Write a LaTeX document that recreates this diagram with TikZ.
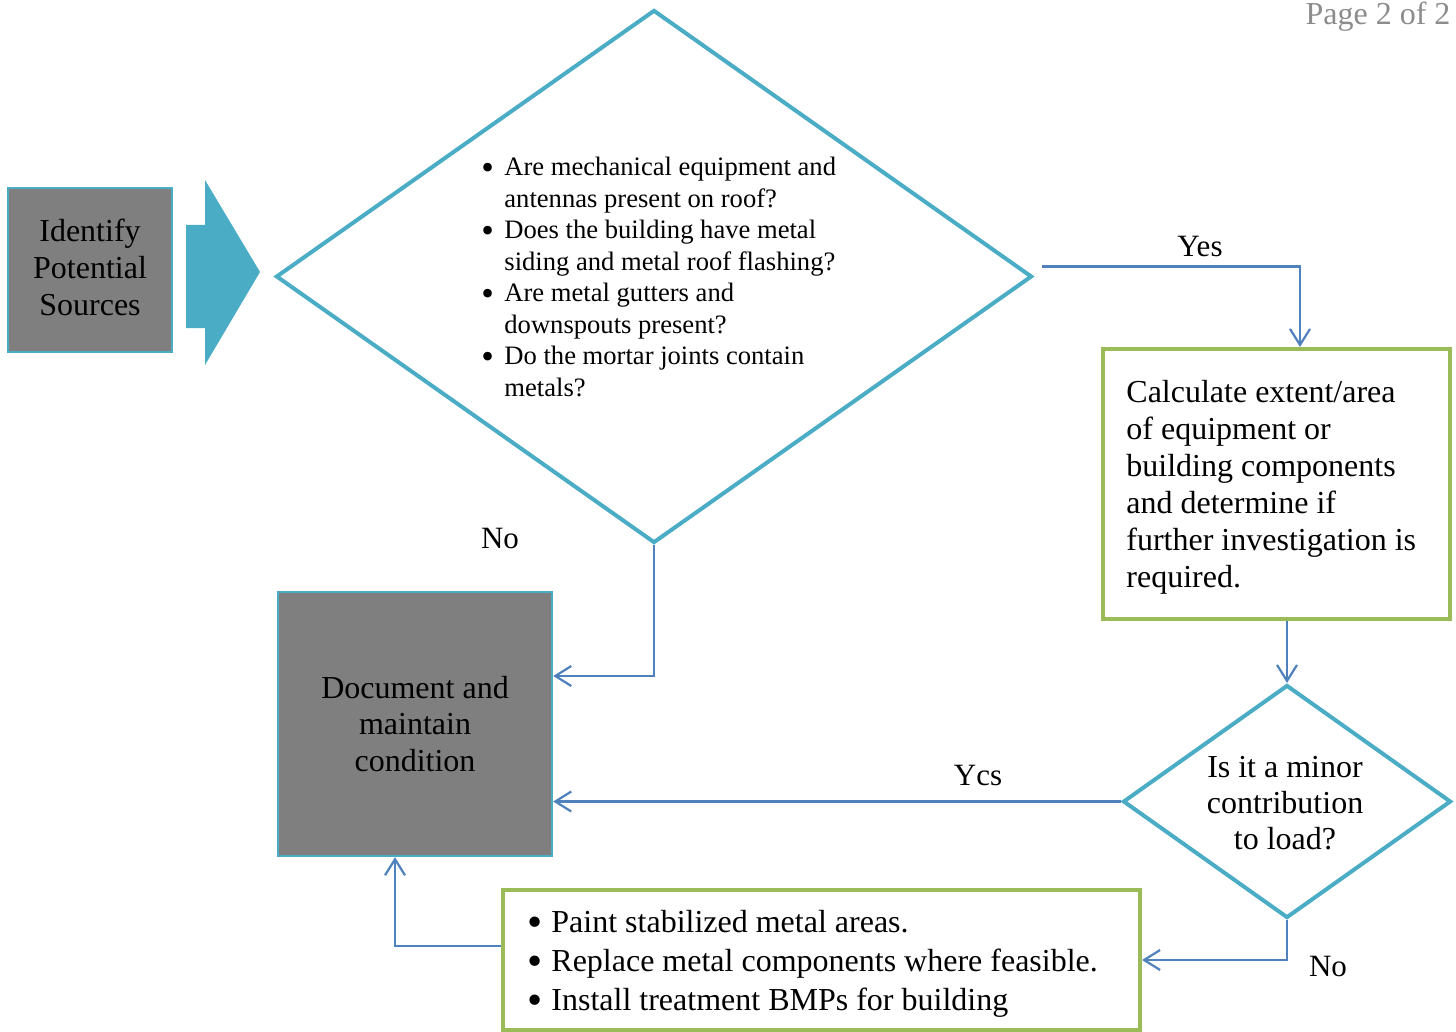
\documentclass[tikz,border=0pt]{standalone}
\usepackage{fontspec}
\setmainfont{Liberation Serif}
\usetikzlibrary{shapes.geometric,arrows.meta}

\definecolor{aqua}{HTML}{4BACC6}
\definecolor{leaf}{HTML}{9BBB59}
\definecolor{wire}{HTML}{4F81BD}
\definecolor{slab}{HTML}{7F7F7F}
\definecolor{pagegray}{HTML}{8C8C8C}

% a bullet a little heavier than the text font's own, kept at x-height
\newcommand{\dotmark}[1]{\makebox[#1][l]{\raisebox{-0.14em}{\scalebox{1.35}{\textbullet}}}}

\tikzset{
  srcbox/.style={draw=aqua, line width=1.2pt, fill=slab, inner sep=0pt, align=center},
  greenbox/.style={draw=leaf, line width=2pt, fill=white, inner sep=0pt},
  decision/.style={draw=aqua, line width=2pt, shape=diamond, inner sep=0pt},
  flow/.style={draw=wire, line width=1.1pt, -{Straight Barb[length=8pt,width=10pt]}},
  lbl/.style={font=\fontsize{15.5}{18}\selectfont, inner sep=0pt},
}

\begin{document}
\begin{tikzpicture}[x=0.5pt, y=-0.5pt]
  \useasboundingbox (0,0) rectangle (1456,1032);

  % page number in the corner
  \node[anchor=base, text=pagegray, font=\fontsize{16}{18}\selectfont, inner sep=0pt] (page) at (1378,25) {Page 2 of 2};

  % start box and block arrow
  \node[srcbox, minimum width=82pt, minimum height=82pt] (src) at (90,270) {};
  \node[anchor=base, inner sep=0pt] (srctext) at (90,242) {%
    \fontsize{16}{18.5}\selectfont
    \begin{tabular}[t]{@{}c@{}}
      Identify\\
      Potential\\
      Sources
    \end{tabular}};
  \fill[aqua] (186,225) -- (205,225) -- (205,180) -- (260,272) -- (205,365)
    -- (205,328) -- (186,328) -- cycle;

  % first decision
  \node[decision, minimum width=378pt, minimum height=266.5pt] (big) at (654,276.5) {};
  \node[anchor=base west, inner sep=0pt] (bigtext) at (481,176) {%
    \fontsize{13.3}{15.75}\selectfont
    \begin{tabular}[t]{@{}l@{}}
      \dotmark{11.5pt}Are mechanical equipment and\\
      \makebox[11.5pt][l]{}antennas present on roof?\\
      \dotmark{11.5pt}Does the building have metal\\
      \makebox[11.5pt][l]{}siding and metal roof flashing?\\
      \dotmark{11.5pt}Are metal gutters and\\
      \makebox[11.5pt][l]{}downspouts present?\\
      \dotmark{11.5pt}Do the mortar joints contain\\
      \makebox[11.5pt][l]{}metals?
    \end{tabular}};

  % calculation box
  \node[greenbox, minimum width=173.5pt, minimum height=135pt] (calc) at (1276.5,484) {};
  \node[anchor=base west, inner sep=0pt] (calctext) at (1126,402) {%
    \fontsize{16}{18.55}\selectfont
    \begin{tabular}[t]{@{}l@{}}
      Calculate extent/area\\
      of equipment or\\
      building components\\
      and determine if\\
      further investigation is\\
      required.
    \end{tabular}};

  % second decision
  \node[decision, minimum width=164pt, minimum height=116.5pt] (minor) at (1287,801.5) {};
  \node[anchor=base, inner sep=0pt] (minortext) at (1285,777) {%
    \fontsize{16}{18}\selectfont
    \begin{tabular}[t]{@{}c@{}}
      Is it a minor\\
      contribution\\
      to load?
    \end{tabular}};

  % document box
  \node[srcbox, minimum width=137pt, minimum height=132pt] (doc) at (415,724) {};
  \node[anchor=base, inner sep=0pt] (doctext) at (415,698) {%
    \fontsize{16}{18.25}\selectfont
    \begin{tabular}[t]{@{}c@{}}
      Document and\\
      maintain\\
      condition
    \end{tabular}};

  % remedies box
  \node[greenbox, minimum width=318.5pt, minimum height=70pt] (fix) at (821.5,960) {};
  \node[anchor=base west, inner sep=0pt] (fixtext) at (527,932) {%
    \fontsize{16}{19.5}\selectfont
    \begin{tabular}[t]{@{}l@{}}
      \dotmark{12pt}Paint stabilized metal areas.\\
      \dotmark{12pt}Replace metal components where feasible.\\
      \dotmark{12pt}Install treatment BMPs for building
    \end{tabular}};

  % connectors
  \draw[flow] ([shift={(8,-10)}]big.east) -| ([shift={(23.5,0)}]calc.north);
  \node[lbl] (yes1) at (1200,247) {Yes};

  \draw[flow] (calc.south -| minor.north) -- (minor.north);

  \draw[flow] (minor.west) -- (minor.west -| doc.east);
  \node[lbl] (yes2) at (978,775) {Ycs};

  \draw[flow] (minor.south) |- (fix.east);
  \node[lbl] (no2) at (1328,966) {No};

  \draw[flow] ([shift={(0,-14)}]fix.west) -| ([shift={(-20,0)}]doc.south);

  \draw[flow] (big.south) |- ([shift={(0,-48)}]doc.east);
  \node[lbl] (no1) at (500,538) {No};
\end{tikzpicture}
\end{document}
